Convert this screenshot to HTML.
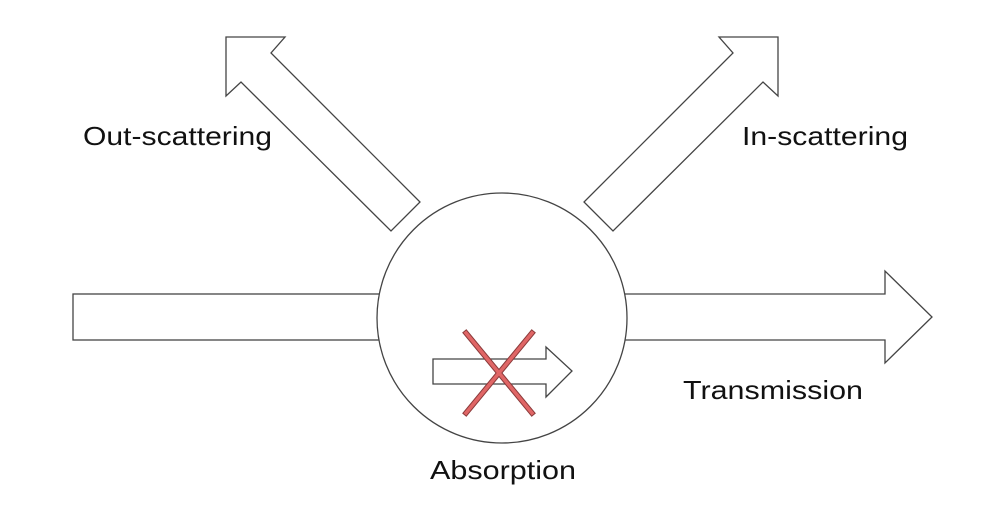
<!DOCTYPE html>
<html><head><style>html,body{margin:0;padding:0;background:#fff;}svg{display:block}</style></head>
<body>
<svg width="983" height="517" viewBox="0 0 983 517" xmlns="http://www.w3.org/2000/svg">
<g fill="#fff" stroke="#444" stroke-width="1.3">
<polygon points="226,37 285,37 271,53 420,202 391,231 241,82 226,96"/>
<polygon points="778,37 719,37 733,53 584,202 613,231 763,82 778,96"/>
<rect x="73" y="294" width="310" height="46"/>
<polygon points="620,294 885,294 885,271 932,317 885,363 885,340 620,340"/>
<circle cx="502" cy="318" r="125"/>
<polygon points="433,359 546,359 546,347 572,371 546,397 546,384 433,384"/>
</g>
<g stroke="#8a3a3a" stroke-width="5.5" stroke-linecap="square">
<line x1="466" y1="333" x2="532" y2="413"/><line x1="532" y1="333" x2="466" y2="413"/>
</g>
<g stroke="#e06666" stroke-width="3.5" stroke-linecap="square">
<line x1="466" y1="333" x2="532" y2="413"/><line x1="532" y1="333" x2="466" y2="413"/>
</g>
<g font-family="Liberation Sans, sans-serif" font-size="26" fill="#111" lengthAdjust="spacingAndGlyphs">
<text x="83" y="145" textLength="189" lengthAdjust="spacingAndGlyphs">Out-scattering</text>
<text x="742" y="145" textLength="166" lengthAdjust="spacingAndGlyphs">In-scattering</text>
<text x="683" y="399" textLength="180" lengthAdjust="spacingAndGlyphs">Transmission</text>
<text x="430" y="479" textLength="146" lengthAdjust="spacingAndGlyphs">Absorption</text>
</g>
</svg>
</body></html>
